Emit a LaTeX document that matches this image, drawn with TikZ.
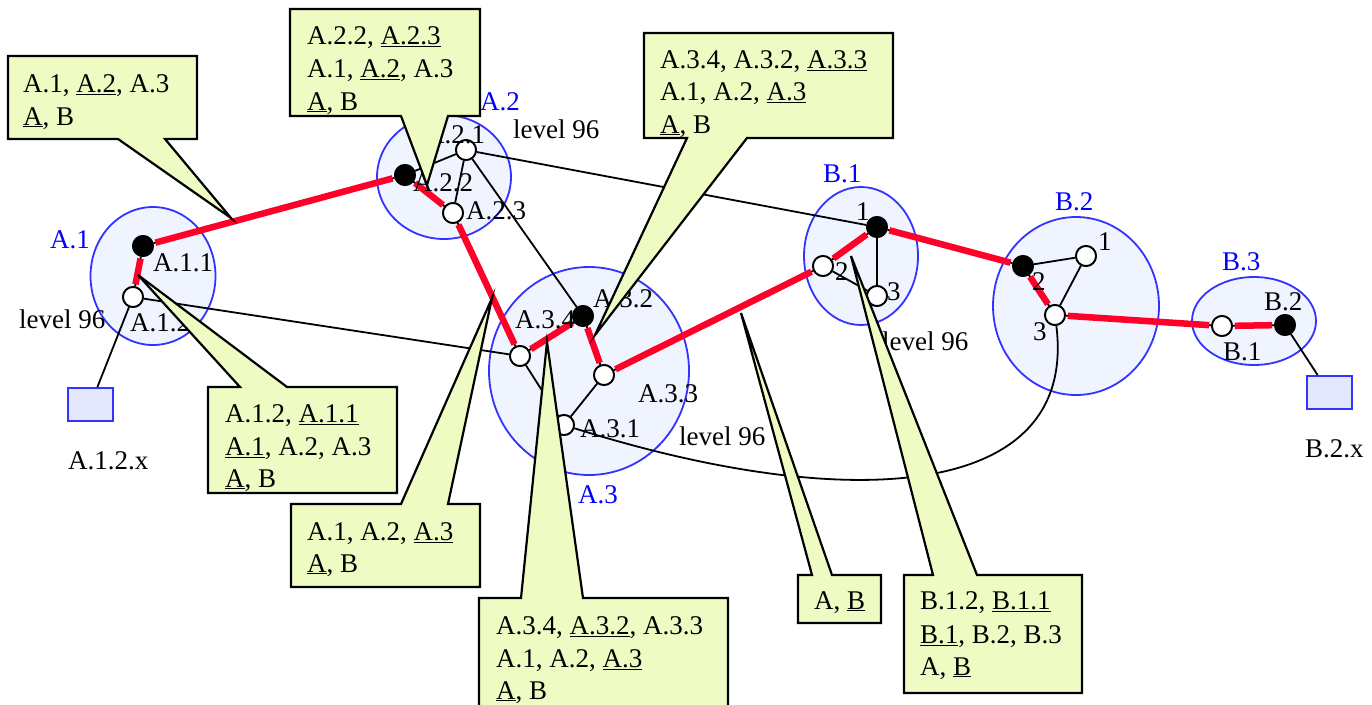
\documentclass[tikz,border=0pt]{standalone}
\usepackage{fontspec}
\setmainfont{Liberation Serif}
\usetikzlibrary{shapes.geometric}
\definecolor{clfill}{RGB}{240,244,255}
\definecolor{clline}{RGB}{51,51,255}
\definecolor{lblblue}{RGB}{0,0,255}
\definecolor{boxfill}{RGB}{228,232,252}
\definecolor{pathred}{RGB}{255,0,40}
\definecolor{callfill}{RGB}{238,252,196}
\tikzset{
  cluster/.style={ellipse, draw=clline, fill=clfill, line width=1.8pt, inner sep=0pt},
  hostbox/.style={rectangle, draw=clline, fill=boxfill, line width=2pt, inner sep=0pt, minimum width=45pt, minimum height=33pt},
  vw/.style={circle, draw=black, fill=white, line width=1.8pt, minimum size=20pt, inner sep=0pt},
  vb/.style={vw, fill=black},
  lbl/.style={anchor=base west, inner sep=0pt, text=black},
  clbl/.style={lbl, text=lblblue},
  thin/.style={draw=black, line width=1.8pt},
  redpath/.style={draw=pathred, line width=6.5pt, shorten <=2pt, shorten >=2pt},
  callout/.style={draw=black, fill=callfill, line width=2.2pt, line join=miter},
}
\begin{document}
\begin{tikzpicture}[x=1pt, y=-1pt, font=\fontsize{27}{33}\selectfont]
\useasboundingbox (0,0) rectangle (1372,704);
\clip (0,0) rectangle (1372,704);

% clusters
\node[cluster, minimum width=125pt, minimum height=138pt] (cA1) at (153,276) {};
\node[cluster, minimum width=134pt, minimum height=124pt] (cA2) at (444,177) {};
\node[cluster, minimum width=200pt, minimum height=208pt] (cA3) at (589,371) {};
\node[cluster, minimum width=114pt, minimum height=138pt] (cB1) at (861,256) {};
\node[cluster, minimum width=166pt, minimum height=178pt] (cB2) at (1076,306) {};
\node[cluster, minimum width=124pt, minimum height=88pt] (cB3) at (1254,321) {};

% host boxes
\node[hostbox] (bx1) at (90.5,404.5) {};
\node[hostbox] (bx2) at (1329,392.5) {};

% vertices
\node[vb] (A11) at (143,246) {};
\node[vw] (A12) at (133,297) {};
\node[vb] (A22) at (405,175) {};
\node[vw] (A21) at (466,150) {};
\node[vw] (A23) at (453,213) {};
\node[vb] (A32) at (583,316) {};
\node[vw] (A34) at (520,356) {};
\node[vw] (A33) at (604,375) {};
\node[vw] (A31) at (564,425) {};
\node[vb] (B11) at (877,227) {};
\node[vw] (B12) at (823,266) {};
\node[vw] (B13) at (877,296) {};
\node[vb] (B22) at (1023,266) {};
\node[vw] (B21) at (1086,256) {};
\node[vw] (B23) at (1055,315) {};
\node[vw] (B31) at (1222,326) {};
\node[vb] (B32) at (1285,325) {};

% thin edges
\path[thin] (A11) -- (A12);
\path[thin] (A12) -- (bx1);
\path[thin] (A12) -- (A34);
\path[thin] (A11) -- (A22);
\path[thin] (A22) -- (A21);
\path[thin] (A21) -- (A23);
\path[thin] (A22) -- (A23);
\path[thin] (A21) -- (A32);
\path[thin] (A21) -- (B11);
\path[thin] (A23) -- (A34);
\path[thin] (A34) -- (A31);
\path[thin] (A31) -- (A33);
\path[thin] (A34) -- (A32);
\path[thin] (A32) -- (A33);
\path[thin] (A33) -- (B12);
\path[thin] (B12) -- (B11);
\path[thin] (B11) -- (B13);
\path[thin] (B12) -- (B13);
\path[thin] (B11) -- (B22);
\path[thin] (B22) -- (B21);
\path[thin] (B21) -- (B23);
\path[thin] (B22) -- (B23);
\path[thin] (B23) -- (B31);
\path[thin] (B31) -- (B32);
\path[thin] (B32) -- (bx2);
\path[thin] (A31) .. controls (850,515) and (1078,500) .. (B23);

% red path
\path[redpath] (A12) -- (A11);
\path[redpath] (A11) -- (A22);
\path[redpath] (A22) -- (A23);
\path[redpath] (A23) -- (A34);
\path[redpath] (A34) -- (A32);
\path[redpath] (A32) -- (A33);
\path[redpath] (A33) -- (B12);
\path[redpath] (B12) -- (B11);
\path[redpath] (B11) -- (B22);
\path[redpath] (B22) -- (B23);
\path[redpath] (B23) -- (B31);
\path[redpath] (B31) -- (B32);

% redraw vertices on top
\foreach \n/\s in {A11/vb,A12/vw,A22/vb,A21/vw,A23/vw,A32/vb,A34/vw,A33/vw,A31/vw,B11/vb,B12/vw,B13/vw,B22/vb,B21/vw,B23/vw,B31/vw,B32/vb}
  \node[\s] at (\n) {};

% cluster labels
\node[clbl] (lA1) at (50,248) {A.1};
\node[clbl] (lA2) at (480,110) {A.2};
\node[clbl] (lA3) at (578,503) {A.3};
\node[clbl] (lB1) at (823,182) {B.1};
\node[clbl] (lB2) at (1055,210) {B.2};
\node[clbl] (lB3) at (1222,270) {B.3};

% vertex labels
\node[lbl] (tA11) at (153,271) {A.1.1};
\node[lbl] (tA12) at (130,331) {A.1.2};
\node[lbl] (tA21) at (425,143) {A.2.1};
\node[lbl] (tA22) at (413,191) {A.2.2};
\node[lbl] (tA23) at (466,219) {A.2.3};
\node[lbl] (tA34) at (515,328) {A.3.4};
\node[lbl] (tA32) at (593,307) {A.3.2};
\node[lbl] (tA33) at (638,402) {A.3.3};
\node[lbl] (tA31) at (580,437) {A.3.1};
\node[lbl] (tB11) at (856,220) {1};
\node[lbl] (tB12) at (835,280) {2};
\node[lbl] (tB13) at (887,300) {3};
\node[lbl] (tB21) at (1098,250) {1};
\node[lbl] (tB22) at (1032,290) {2};
\node[lbl] (tB23) at (1033,340) {3};
\node[lbl] (tB32) at (1264,310) {B.2};
\node[lbl] (tB31) at (1223,360) {B.1};
\node[lbl] (tbx1) at (68,469) {A.1.2.x};
\node[lbl] (tbx2) at (1305,457) {B.2.x};

% level labels
\node[lbl] (lv1) at (19,328) {level 96};
\node[lbl] (lv2) at (513,138) {level 96};
\node[lbl] (lv3) at (679,445) {level 96};
\node[lbl] (lv4) at (882,350) {level 96};

% callouts
\coordinate (tip1) at (231,218);
\coordinate (tip2) at (427,185);
\coordinate (tip3) at (595,335);
\coordinate (tip4) at (138,275);
\coordinate (tip5) at (492,298);
\coordinate (tip6) at (547,342);
\coordinate (tip7) at (741,313);
\coordinate (tip8) at (851,256);

\path[callout] (8,56) -- (197,56) -- (197,139) -- (165,139) -- (tip1) -- (118,139) -- (8,139) -- cycle;
\node[lbl] (c1a) at (23,92) {A.1, \underline{A.2}, A.3};
\node[lbl] (c1b) at (23,125) {\underline{A}, B};

\path[callout] (290,9) -- (480,9) -- (480,116) -- (448,116) -- (tip2) -- (401,116) -- (290,116) -- cycle;
\node[lbl] (c2a) at (307,44) {A.2.2, \underline{A.2.3}};
\node[lbl] (c2b) at (307,77) {A.1, \underline{A.2}, A.3};
\node[lbl] (c2c) at (307,110) {\underline{A}, B};

\path[callout] (644,33) -- (893,33) -- (893,138) -- (747,138) -- (tip3) -- (687,138) -- (644,138) -- cycle;
\node[lbl] (c3a) at (660,68) {A.3.4, A.3.2, \underline{A.3.3}};
\node[lbl] (c3b) at (660,100) {A.1, A.2, \underline{A.3}};
\node[lbl] (c3c) at (660,133) {\underline{A}, B};

\path[callout] (208,387) -- (240,387) -- (tip4) -- (287,387) -- (397,387) -- (397,493) -- (208,493) -- cycle;
\node[lbl] (c4a) at (225,422) {A.1.2, \underline{A.1.1}};
\node[lbl] (c4b) at (225,455) {\underline{A.1}, A.2, A.3};
\node[lbl] (c4c) at (225,487) {\underline{A}, B};

\path[callout] (291,504) -- (401,504) -- (tip5) -- (448,504) -- (480,504) -- (480,587) -- (291,587) -- cycle;
\node[lbl] (c5a) at (307,540) {A.1, A.2, \underline{A.3}};
\node[lbl] (c5b) at (307,572) {\underline{A}, B};

\path[callout] (479,598) -- (521,598) -- (tip6) -- (583,598) -- (728,598) -- (728,720) -- (479,720) -- cycle;
\node[lbl] (c6a) at (496,634) {A.3.4, \underline{A.3.2}, A.3.3};
\node[lbl] (c6b) at (496,667) {A.1, A.2, \underline{A.3}};
\node[lbl] (c6c) at (496,699) {\underline{A}, B};

\path[callout] (798,575) -- (812,575) -- (tip7) -- (832,575) -- (881,575) -- (881,623) -- (798,623) -- cycle;
\node[lbl] (c7a) at (814,609) {A, \underline{B}};

\path[callout] (904,575) -- (933,575) -- (tip8) -- (977,575) -- (1082,575) -- (1082,693) -- (904,693) -- cycle;
\node[lbl] (c8a) at (920,609) {B.1.2, \underline{B.1.1}};
\node[lbl] (c8b) at (920,643) {\underline{B.1}, B.2, B.3};
\node[lbl] (c8c) at (920,675) {A, \underline{B}};
\end{tikzpicture}
\end{document}
